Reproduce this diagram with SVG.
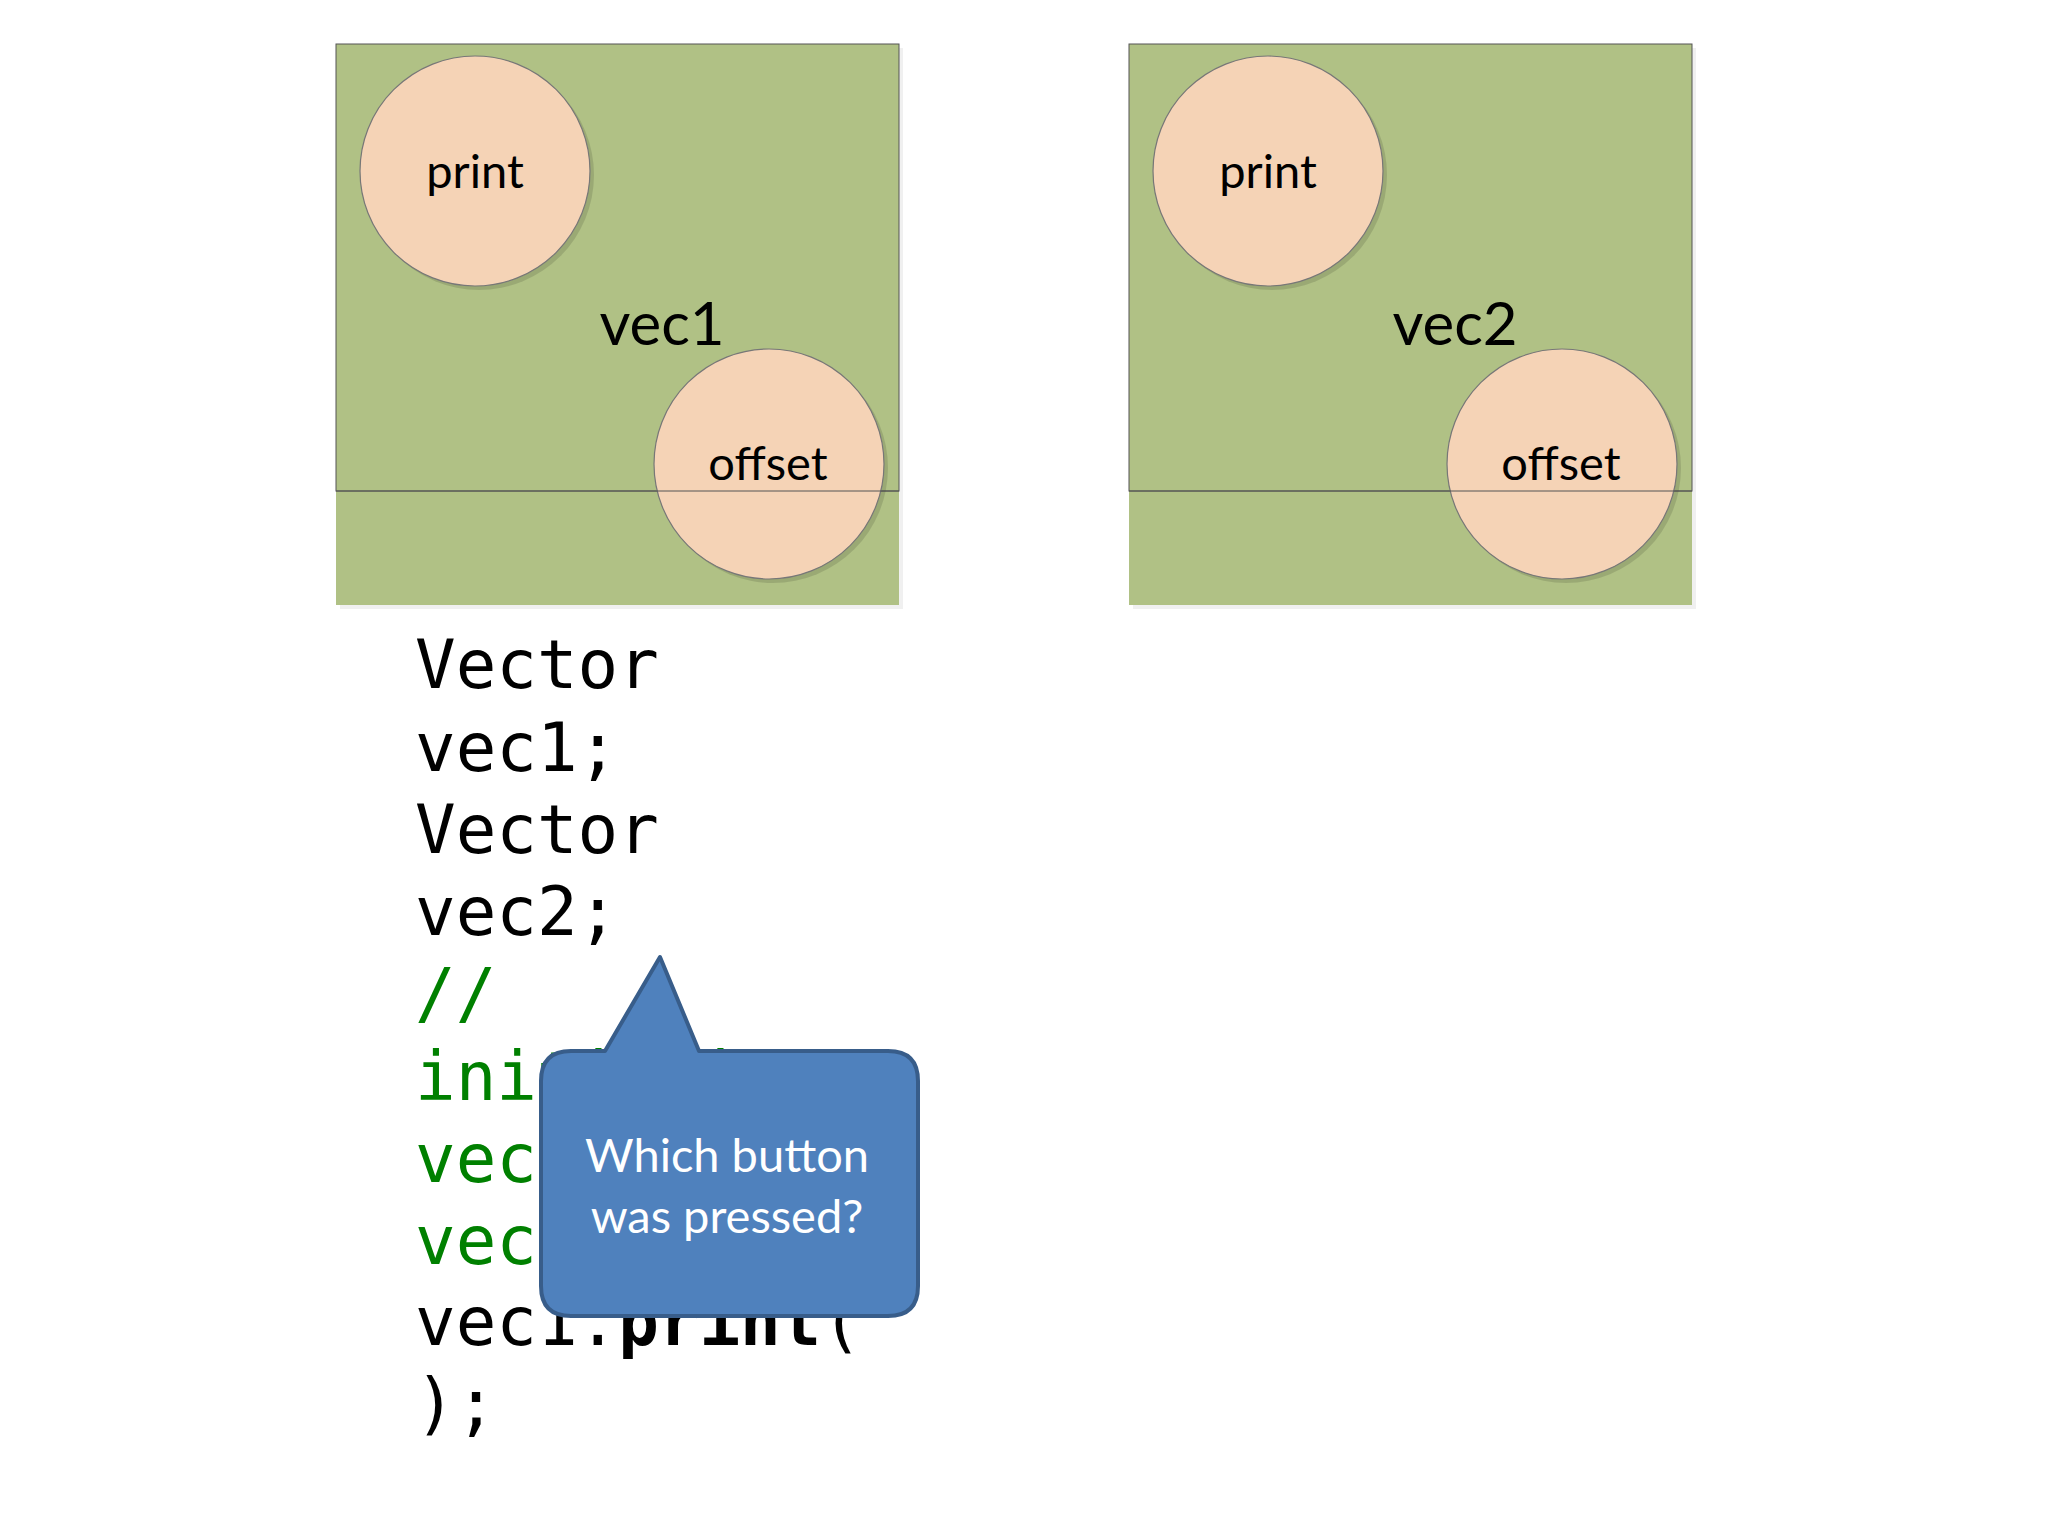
<svg xmlns="http://www.w3.org/2000/svg" width="2048" height="1536" viewBox="0 0 2048 1536">
<style>
.box{fill:#b0c185}
.boxline{fill:none;stroke:#555;stroke-width:1}
.circ{fill:#f5d3b6;stroke:#777;stroke-width:1.2}
.shadow{fill:#000;opacity:0.12}
.lbl{font-family:Lato,"Liberation Sans",sans-serif;fill:#000;text-anchor:middle}
.code{font-family:"DejaVu Sans Mono","Liberation Mono",monospace;font-size:67.5px;fill:#000}
.cm{fill:#008000}
.call{font-family:Lato,"Liberation Sans",sans-serif;font-size:47px;fill:#fff;text-anchor:middle}
</style>
<rect width="2048" height="1536" fill="#fff"/>
<g id="vec1">
<rect x="340" y="48" width="563" height="561" fill="#000" opacity="0.06"/>
<rect class="box" x="336" y="44" width="563" height="561"/>
<rect class="boxline" x="336" y="44" width="563" height="447"/>
<circle class="shadow" cx="479" cy="175" r="115"/>
<circle class="circ" cx="475" cy="171" r="115"/>
<text class="lbl" x="475" y="188" font-size="47">print</text>
<text class="lbl" x="662" y="345" font-size="60">vec1</text>
<circle class="shadow" cx="773" cy="468" r="115"/>
<circle class="circ" cx="769" cy="464" r="115"/>
<text class="lbl" x="768" y="480" font-size="47">offset</text>
<line x1="336" y1="491" x2="899" y2="491" stroke="#555" stroke-width="1"/>
</g>
<g id="vec2">
<rect x="1133" y="48" width="563" height="561" fill="#000" opacity="0.06"/>
<rect class="box" x="1129" y="44" width="563" height="561"/>
<rect class="boxline" x="1129" y="44" width="563" height="447"/>
<circle class="shadow" cx="1272" cy="175" r="115"/>
<circle class="circ" cx="1268" cy="171" r="115"/>
<text class="lbl" x="1268" y="188" font-size="47">print</text>
<text class="lbl" x="1455" y="345" font-size="60">vec2</text>
<circle class="shadow" cx="1566" cy="468" r="115"/>
<circle class="circ" cx="1562" cy="464" r="115"/>
<text class="lbl" x="1561" y="480" font-size="47">offset</text>
<line x1="1129" y1="491" x2="1692" y2="491" stroke="#555" stroke-width="1"/>
</g>
<g id="code">
<text class="code" x="415" y="688">Vector</text>
<text class="code" x="415" y="771">vec1;</text>
<text class="code" x="415" y="853">Vector</text>
<text class="code" x="415" y="935">vec2;</text>
<text class="code cm" x="415" y="1017">//</text>
<text class="code cm" x="415" y="1100">initialize</text>
<text class="code cm" x="415" y="1182">vec1.x=1;</text>
<text class="code cm" x="415" y="1264">vec2.x=2;</text>
<text class="code" x="415" y="1345">vec1.<tspan font-weight="bold">print</tspan>(</text>
<text class="code" x="415" y="1427">);</text>
</g>
<g id="callout">
<path d="M571,1051 L605,1051 L660,957 L699,1051 L888,1051 Q918,1051 918,1081 L918,1286 Q918,1316 888,1316 L571,1316 Q541,1316 541,1286 L541,1081 Q541,1051 571,1051 Z" fill="#4f81bd" stroke="#385d8a" stroke-width="4" stroke-linejoin="round"/>
<text class="call" x="727" y="1172">Which button</text>
<text class="call" x="727" y="1233">was pressed?</text>
</g>
</svg>
